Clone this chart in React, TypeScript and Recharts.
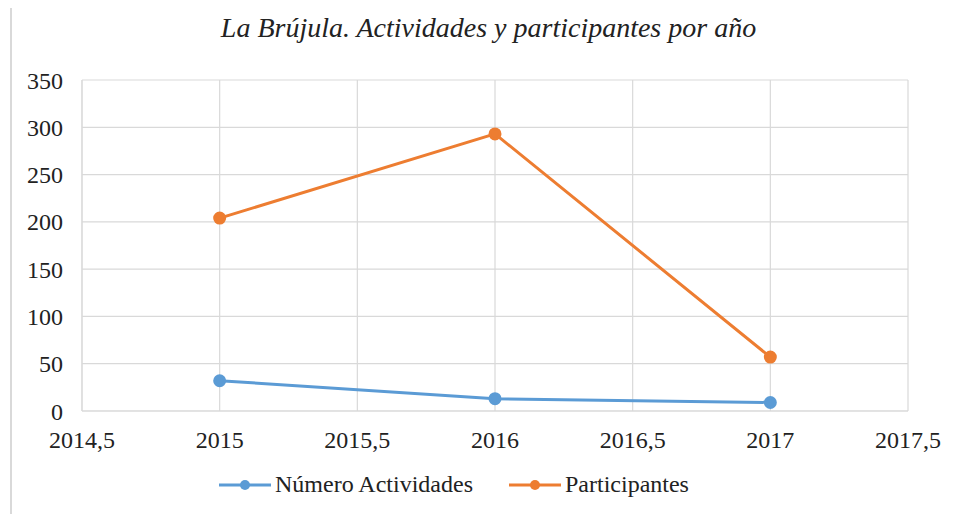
import React from 'react';
import { LineChart, Line, XAxis, YAxis, CartesianGrid, Legend } from 'recharts';

const years = [2015, 2016, 2017];
const actividades = [32, 13, 9];
const participantes = [204, 293, 57];
const xTicks = [2014.5, 2015, 2015.5, 2016, 2016.5, 2017, 2017.5];
const yTicks = [0, 50, 100, 150, 200, 250, 300, 350];

const data = years.map((y, i) => ({ year: y, act: actividades[i], part: participantes[i] }));

const FONT = 'Tinos, serif';

const LegendContent = () => (
  <div style={{ display: 'flex', justifyContent: 'center', fontFamily: FONT, fontSize: 24, color: '#222', paddingTop: 20 }}>
    {[
      { name: 'Número Actividades', color: '#5B9BD5' },
      { name: 'Participantes', color: '#ED7D31' },
    ].map((it, i) => (
      <div key={it.name} style={{ display: 'flex', alignItems: 'center', marginLeft: i ? 36 : 0 }}>
        <svg width={52} height={14} style={{ marginRight: 4 }}>
          <line x1={0} y1={7} x2={52} y2={7} stroke={it.color} strokeWidth={3} />
          <circle cx={26} cy={7} r={5} fill={it.color} />
        </svg>
        <span style={{ fontFamily: FONT }}>{it.name}</span>
      </div>
    ))}
  </div>
);

export default function App() {
  return (
    <div style={{ position: 'relative', margin: -8, width: 957, height: 522, background: '#fff', fontFamily: FONT }}>
      <div style={{ position: 'absolute', left: 10, top: 8, width: 944, height: 511, borderLeft: '2px solid #d9d9d9', borderRight: '1px solid #e6e6e6' }} />
      <div style={{ position: 'absolute', left: 0, top: 12, width: 977, textAlign: 'center', fontFamily: FONT, fontStyle: 'italic', fontSize: 28, color: '#222' }}>
        La Brújula. Actividades y participantes por año
      </div>
      <LineChart width={957} height={522} data={data} margin={{ top: 80, right: 49, left: 0, bottom: 10 }} style={{ fontFamily: FONT }}>
        <CartesianGrid stroke="#d9d9d9" strokeWidth={1.2} />
        <XAxis
          dataKey="year"
          type="number"
          domain={[2014.5, 2017.5]}
          ticks={xTicks}
          tickFormatter={(v: number) => String(v).replace('.', ',')}
          tick={{ fill: '#222', fontFamily: FONT, fontSize: 24 }}
          axisLine={{ stroke: '#d9d9d9' }}
          tickLine={false}
          tickMargin={14}
          height={40}
          interval={0}
        />
        <YAxis
          domain={[0, 350]}
          ticks={yTicks}
          tick={{ fill: '#222', fontFamily: FONT, fontSize: 24 }}
          axisLine={{ stroke: '#d9d9d9' }}
          tickLine={false}
          tickMargin={13}
          width={82}
          interval={0}
        />
        <Legend verticalAlign="bottom" height={61} content={LegendContent} />
        <Line dataKey="act" name="Número Actividades" stroke="#5B9BD5" strokeWidth={3} dot={{ r: 5, fill: '#5B9BD5', stroke: '#5B9BD5' }} isAnimationActive={false} />
        <Line dataKey="part" name="Participantes" stroke="#ED7D31" strokeWidth={3} dot={{ r: 5, fill: '#ED7D31', stroke: '#ED7D31' }} isAnimationActive={false} />
      </LineChart>
    </div>
  );
}
